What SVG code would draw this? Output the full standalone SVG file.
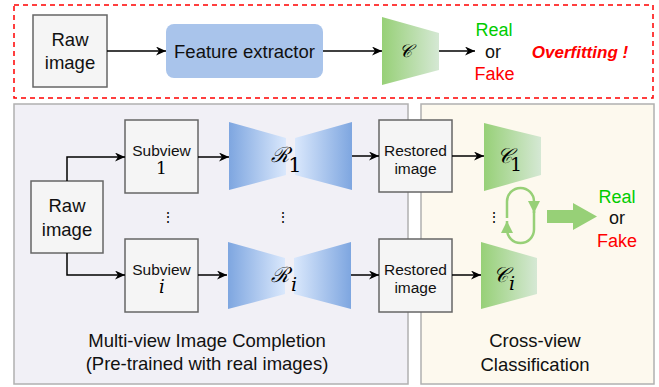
<svg xmlns="http://www.w3.org/2000/svg" width="659" height="387" viewBox="0 0 659 387">
<defs>
<linearGradient id="gBlueL" x1="0" y1="0" x2="1" y2="0"><stop offset="0" stop-color="#7ea6e0"/><stop offset="1" stop-color="#dae8fc"/></linearGradient>
<linearGradient id="gBlueR" x1="0" y1="0" x2="1" y2="0"><stop offset="0" stop-color="#dae8fc"/><stop offset="1" stop-color="#7ea6e0"/></linearGradient>
<linearGradient id="gGreen" x1="0" y1="0" x2="1" y2="0"><stop offset="0" stop-color="#97d077"/><stop offset="1" stop-color="#d5e8d4"/></linearGradient>
<marker id="arr" markerUnits="userSpaceOnUse" markerWidth="11" markerHeight="9" refX="10" refY="4.5" orient="auto"><path d="M0,0 L10,4.5 L0,9 L3,4.5 z" fill="#000"/></marker>
<marker id="garr" markerUnits="userSpaceOnUse" markerWidth="12" markerHeight="12" refX="12" refY="6" orient="auto"><path d="M0,0 L12,6 L0,12 z" fill="#97d077"/></marker>
</defs>
<style>
.box{fill:#f5f5f5;stroke:#666;stroke-width:1.5}
.t{font-family:"Liberation Sans",Arial,sans-serif;fill:#111;text-anchor:middle}
.m{font-family:"DejaVu Serif","Liberation Serif",serif;fill:#000;text-anchor:middle}
.conn path{fill:none;stroke:#000;stroke-width:1.5;marker-end:url(#arr)}
.loop{fill:none;stroke:#97d077;stroke-width:2.5;marker-end:url(#garr)}
</style>

<g id="top-panel"><rect x="14" y="5" width="639" height="93" fill="#fff" stroke="#ff0000" stroke-width="1.5" stroke-dasharray="5,4"/></g>
<g id="left-panel"><rect x="14" y="104" width="394" height="280" fill="#f1f0f6" stroke="#b0b0b0" stroke-width="1.5"/>
<text class="t" x="207" y="347" font-size="18.5">Multi-view Image Completion</text>
<text class="t" x="207" y="370" font-size="18.5">(Pre-trained with real images)</text></g>
<g id="right-panel"><rect x="421" y="104" width="233" height="280" fill="#fdf9ee" stroke="#b0b0b0" stroke-width="1.5"/>
<text class="t" x="535" y="347" font-size="18.5">Cross-view</text>
<text class="t" x="535" y="371" font-size="18.5">Classification</text></g>

<g id="raw-top"><rect class="box" x="33" y="15" width="74" height="72"/>
<text class="t" x="70" y="46" font-size="18.5">Raw</text><text class="t" x="70" y="69" font-size="18.5">image</text></g>
<g id="feature-extractor"><rect x="166" y="24" width="157" height="54" rx="8" fill="#a9c4eb"/>
<text class="t" x="244.5" y="57.5" font-size="18.5">Feature extractor</text></g>
<g id="c-top"><polygon points="382,17 439,33 439,70 382,85" fill="url(#gGreen)"/>
<text class="m" x="405" y="57" font-size="18" font-style="italic">𝒞</text></g>
<g id="result-top"><text class="t" x="494" y="36" font-size="18" style="fill:#00cc00">Real</text>
<text class="t" x="493" y="58" font-size="18">or</text>
<text class="t" x="494.5" y="80" font-size="18" style="fill:#ff0000">Fake</text></g>
<g id="overfitting"><text class="t" x="580" y="58" font-size="17" font-weight="bold" font-style="italic" style="fill:#ff0000">Overfitting !</text></g>

<g id="raw"><rect class="box" x="31" y="181" width="72" height="72"/>
<text class="t" x="67" y="212" font-size="18.5">Raw</text><text class="t" x="67" y="236" font-size="18.5">image</text></g>
<g id="subview-1"><rect class="box" x="125" y="120" width="73" height="73"/>
<text class="t" x="161.5" y="156" font-size="15.5">Subview</text><text class="m" x="161.5" y="174" font-size="17">1</text></g>
<g id="subview-i"><rect class="box" x="125" y="239" width="73" height="73"/>
<text class="t" x="161.5" y="275" font-size="15.5">Subview</text><text class="m" x="162" y="293" font-size="18" font-style="italic">i</text></g>
<g id="r-1"><polygon points="229,122 286,138 286,175 229,190" fill="url(#gBlueL)"/>
<polygon points="295,138 352,122 352,190 295,175" fill="url(#gBlueR)"/>
<text class="m" x="280" y="162" font-size="21" font-style="italic">ℛ</text><text class="m" x="295" y="172" font-size="21">1</text></g>
<g id="r-i"><polygon points="228,242 285,258 285,294 228,309" fill="url(#gBlueL)"/>
<polygon points="294,258 351,242 351,309 294,294" fill="url(#gBlueR)"/>
<text class="m" x="280" y="282" font-size="21" font-style="italic">ℛ</text><text class="m" x="294" y="291" font-size="19" font-style="italic">i</text></g>
<g id="restored-1"><rect class="box" x="379" y="120" width="73" height="72"/>
<text class="t" x="415.5" y="156" font-size="15.5">Restored</text><text class="t" x="415.5" y="174" font-size="15.5">image</text></g>
<g id="restored-i"><rect class="box" x="379" y="239" width="73" height="73"/>
<text class="t" x="415.5" y="275" font-size="15.5">Restored</text><text class="t" x="415.5" y="293" font-size="15.5">image</text></g>
<g id="c-1"><polygon points="484,123 541,137 541,175 484,191" fill="url(#gGreen)"/>
<text class="m" x="504" y="163" font-size="21" font-style="italic">𝒞</text><text class="m" x="516" y="171" font-size="19">1</text></g>
<g id="c-i"><polygon points="481,242 537,258 537,294 481,309" fill="url(#gGreen)"/>
<text class="m" x="500" y="282" font-size="21" font-style="italic">𝒞</text><text class="m" x="512" y="290" font-size="19" font-style="italic">i</text></g>
<g id="dots"><text class="m" x="168" y="222" font-size="14">⋮</text><text class="m" x="283" y="222" font-size="14">⋮</text><text class="m" x="494" y="222" font-size="14">⋮</text></g>
<g id="result-bottom"><text class="t" x="617" y="203" font-size="18" style="fill:#00cc00">Real</text>
<text class="t" x="617" y="224" font-size="18">or</text>
<text class="t" x="617" y="247" font-size="18" style="fill:#ff0000">Fake</text></g>

<g id="connectors">
<g class="conn">
<path d="M107,51 H166"/>
<path d="M323,51 H382"/>
<path d="M439,51 H475"/>
<path d="M67,181 V157 H125"/>
<path d="M67,253 V275 H125"/>
<path d="M198,157 H229"/>
<path d="M352,156 H379"/>
<path d="M452,156 H484"/>
<path d="M198,275 H227"/>
<path d="M351,275 H379"/>
<path d="M452,275 H481"/>
</g>
<path class="loop" d="M507,218 V201.5 A13.5,13.5 0 0 1 534,201.5 V213"/>
<path class="loop" d="M534,211 V229.5 A13.5,13.5 0 0 1 507,229.5 V221"/>
<polygon points="547,210 573,210 573,203 597,216.5 573,230 573,223 547,223" fill="#97d077"/>
</g>
</svg>
